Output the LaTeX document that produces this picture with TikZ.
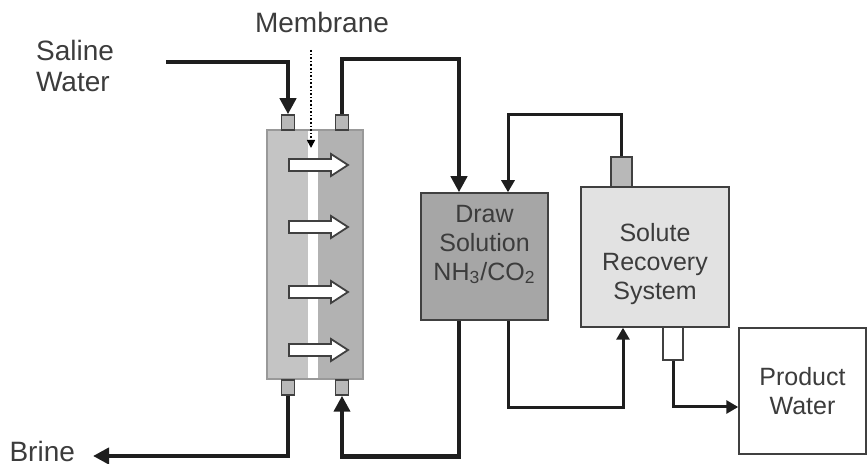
\documentclass[tikz,border=0pt]{standalone}
\usepackage{fontspec}
\setmainfont{Liberation Sans}
\usetikzlibrary{arrows.meta, positioning, calc}

\definecolor{txtgray}{HTML}{3C3C3C}
\definecolor{lnblack}{HTML}{1E1E1E}
\definecolor{modleft}{HTML}{C4C4C4}
\definecolor{modright}{HTML}{B2B2B2}
\definecolor{portgray}{HTML}{B8B8B8}
\definecolor{dsgray}{HTML}{A6A6A6}
\definecolor{srgray}{HTML}{E2E2E2}

\begin{document}
\begin{tikzpicture}[x=0.5pt, y=-0.5pt,
  label/.style={text=txtgray, font=\fontsize{14}{15.5}\selectfont, align=left},
  boxtext/.style={text=txtgray, font=\fontsize{12.5}{14.5}\selectfont, align=center},
  unit/.style={draw=lnblack!85, line width=0.75pt, inner sep=0pt},
  port/.style={unit, fill=portgray, minimum width=6.5pt, minimum height=7.5pt},
  flow/.style={draw=lnblack, line width=2.25pt, -{Triangle[length=8pt,width=8pt]}},
  loop/.style={draw=lnblack, line width=1.5pt, -{Triangle[length=6pt,width=6.5pt]}},
  blockarr/.style={draw=lnblack!85, line width=0.9pt, fill=white, line join=miter}
]

\useasboundingbox (0,0) rectangle (868,464);

% Membrane module
\fill[modleft] (267,130) rectangle (308,379);
\fill[white] (308,130) rectangle (318,379);
\fill[modright] (318,130) rectangle (363,379);
\node[draw=gray!80, line width=0.6pt, minimum width=48pt, minimum height=124.5pt, inner sep=0pt] (module) at (315,254.5) {};

% Flux arrows
\foreach \y in {165,227,292,350}
  \draw[blockarr] (289,\y-6) -- (331,\y-6) -- (331,\y-11) -- (348,\y) -- (331,\y+11) -- (331,\y+6) -- (289,\y+6) -- cycle;

% Ports
\node[port] (inA) at (288,122.5) {};
\node[port] (outA) at (342,122.5) {};
\node[port] (outB) at (288,387.5) {};
\node[port] (inB) at (342,387.5) {};

% Units
\node[unit, fill=dsgray, minimum width=63.5pt, minimum height=63.5pt] (drawsol) at (484.5,256.5) {};
\node[boxtext] at ([yshift=6pt]drawsol.center) {Draw\\Solution\\NH\textsubscript{3}/CO\textsubscript{2}};
\node[unit, fill=srgray, minimum width=74pt, minimum height=70pt] (recovery) at (655,257) {};
\node[boxtext] at ([yshift=-3.5pt]recovery.center) {Solute\\Recovery\\System};
\node[unit, fill=portgray, minimum width=10.5pt, minimum height=15pt] (vent) at (621.5,172) {};
\node[unit, fill=white, minimum width=10pt, minimum height=16.5pt] (outlet) at (673,343.5) {};
\node[unit, fill=white, minimum width=63.5pt, minimum height=63pt, align=center, text=txtgray,
  font=\fontsize{12.5}{14.5}\selectfont] (product) at (802.5,391) {Product\\Water};

% Labels
\node[label] (saline) at (75,66) {Saline\\Water};
\node[label] (membrane) at (322,22) {Membrane};
\node[label, anchor=east] (brine) at (82,451) {Brine};
\coordinate (feed) at (166,62);
\coordinate (brineend) at (93,456);
\coordinate (memtop) at (311,50);
\coordinate (memtip) at (311,148);

% Feed and brine
\draw[flow] (feed) -| (inA.north);
\draw[flow] (outB.south) |- (brineend);
\draw[densely dotted, line width=0.8pt, -{Triangle[length=4pt,width=4pt]}] (memtop) -- (memtip);

% Draw solution loop
\draw[flow] (outA.north) -- ++(0,-55) -| ([xshift=-12.75pt]drawsol.north);
\draw[flow] ([xshift=-12.75pt]drawsol.south) -- ++(0,136) -| (inB.south);

% Recovery loop
\draw[loop] (vent.north) -- ++(0,-42) -| ([xshift=11.75pt]drawsol.north);
\draw[loop] ([xshift=11.75pt]drawsol.south) -- ++(0,87) -| ([xshift=-16pt]recovery.south);
\draw[loop] (outlet.south) |- ([yshift=-8pt]product.west);

\end{tikzpicture}
\end{document}
